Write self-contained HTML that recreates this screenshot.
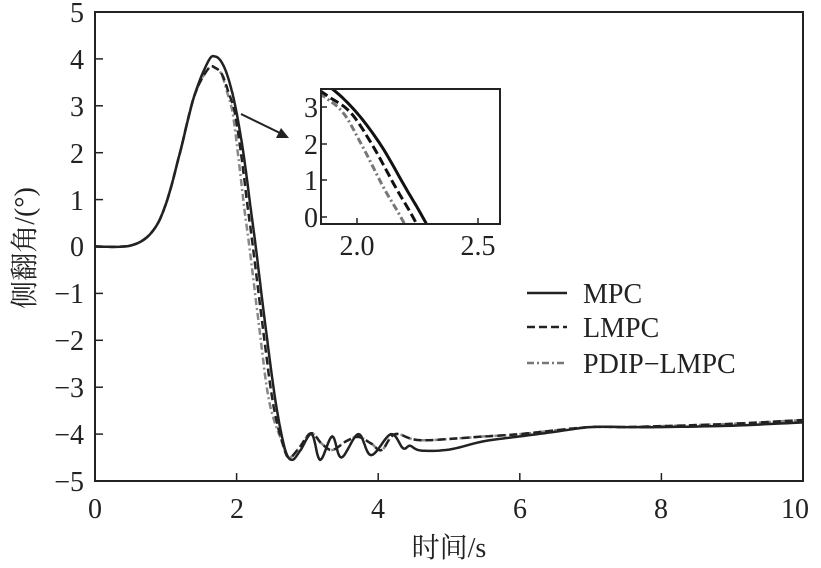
<!DOCTYPE html>
<html><head><meta charset="utf-8"><style>
body{margin:0;background:#fff}
svg text{font-family:"Liberation Serif","Noto Serif CJK SC",serif;fill:#222}
</style></head><body>
<svg id="s" width="821" height="563" viewBox="0 0 821 563" xmlns="http://www.w3.org/2000/svg">
<rect width="821" height="563" fill="#fff"/>
<g id="main"></g>
<rect x="95" y="12" width="708" height="469" fill="none" stroke="#222" stroke-width="2"/>
<g font-size="28" text-anchor="end">
<text x="84" y="22">5</text><text x="84" y="69">4</text><text x="84" y="116">3</text><text x="84" y="163">2</text><text x="84" y="210">1</text><text x="84" y="256">0</text><text x="84" y="303">−1</text><text x="84" y="350">−2</text><text x="84" y="397">−3</text><text x="84" y="444">−4</text><text x="84" y="491">−5</text>
</g>
<g font-size="28" text-anchor="middle">
<text x="95" y="518">0</text><text x="237" y="518">2</text><text x="378" y="518">4</text><text x="520" y="518">6</text><text x="661" y="518">8</text><text x="795" y="518">10</text>
</g>
<text x="449" y="557" font-size="28" text-anchor="middle">时间/s</text>
<text transform="translate(34,248) rotate(-90)" font-size="28" text-anchor="middle">侧翻角/(°)</text>
<g id="ticks" stroke="#222" stroke-width="1.5"></g>
<rect x="321" y="89" width="179" height="135" fill="#fff"/>
<g id="inset"></g>
<rect x="321" y="89" width="179" height="135" fill="none" stroke="#222" stroke-width="2"/>
<g font-size="28" text-anchor="end">
<text x="318" y="117">3</text><text x="318" y="154">2</text><text x="318" y="190">1</text><text x="318" y="227">0</text>
</g>
<g font-size="28" text-anchor="middle"><text x="357" y="255">2.0</text><text x="478" y="255">2.5</text></g>
<line x1="241" y1="114" x2="282" y2="134" stroke="#222" stroke-width="2"/>
<polygon points="289,138 276,138 281,128" fill="#222"/>
<g stroke-width="2.5" fill="none">
<line x1="527" y1="293" x2="567" y2="293" stroke="#222"/>
<line x1="527" y1="327" x2="567" y2="327" stroke="#222" stroke-dasharray="8,4"/>
<line x1="527" y1="363" x2="567" y2="363" stroke="#777" stroke-dasharray="7,3,2,3"/>
</g>
<g font-size="28"><text x="583" y="303">MPC</text><text x="583" y="337">LMPC</text><text x="583" y="373">PDIP−LMPC</text></g>
</svg>
<script>
var NS="http://www.w3.org/2000/svg";
var rise=[[0,0],[0.5,0.02],[0.8,0.3],[1.0,0.9],[1.2,2.0],[1.4,3.2],[1.6,3.95],[1.7,4.05]];
var fall=[[1.8,3.9],[1.9,3.5],[2.0,2.85],[2.1,1.95],[2.2,0.8],[2.27,0],[2.4,-1.6],[2.55,-3.3]];
var mpc=rise.concat(fall).concat([[2.68,-4.3],[2.78,-4.55],[2.9,-4.35],[3.06,-4.0],[3.18,-4.55],[3.35,-4.05],[3.48,-4.5],[3.72,-4.0],[3.9,-4.45],[4.18,-4.0],[4.35,-4.3],[4.45,-4.25],[4.6,-4.35],[5.0,-4.33],[5.5,-4.15],[6,-4.05],[6.5,-3.95],[7,-3.85],[7.5,-3.85],[8,-3.85],[9,-3.82],[10,-3.75]]);
function mod(d,pk){return rise.concat(fall).map(function(p){var t=p[0],v=p[1];if(t>1.4&&t<=1.9)v=v*(1-(1-pk)*Math.min(1,(t-1.4)/0.3));if(t>1.75){t-=d*Math.min(1,(t-1.75)/0.4);}return [t,v];});}
var tail=[[2.65,-4.2],[2.74,-4.5],[2.88,-4.3],[3.05,-3.98],[3.2,-4.2],[3.35,-4.34],[3.55,-4.15],[3.72,-4.06],[3.9,-4.2],[4.05,-4.34],[4.24,-4.0],[4.6,-4.13],[5.5,-4.05],[6,-4.0],[6.5,-3.92],[7,-3.85],[7.5,-3.85],[8,-3.83],[9,-3.78],[10,-3.7]];
var pd=mod(0.09,0.94).concat(tail);
var lm=mod(0.04,0.94).concat(tail);
function cr(pts,X,Y){var s=[];for(var i=0;i<pts.length-1;i++){var p0=pts[Math.max(0,i-1)],p1=pts[i],p2=pts[i+1],p3=pts[Math.min(pts.length-1,i+2)];for(var k=0;k<10;k++){var u=k/10,u2=u*u,u3=u2*u;var f=function(a,b,c,d){return 0.5*(2*b+(-a+c)*u+(2*a-5*b+4*c-d)*u2+(-a+3*b-3*c+d)*u3)};s.push(X(f(p0[0],p1[0],p2[0],p3[0])).toFixed(1)+","+Y(f(p0[1],p1[1],p2[1],p3[1])).toFixed(1));}}var l=pts[pts.length-1];s.push(X(l[0])+","+Y(l[1]));return "M"+s.join("L");}
function add(g,d,c,dash,w){var p=document.createElementNS(NS,"path");p.setAttribute("d",d);p.setAttribute("fill","none");p.setAttribute("stroke",c);p.setAttribute("stroke-width",w);if(dash)p.setAttribute("stroke-dasharray",dash);document.getElementById(g).appendChild(p);}
var MX=function(t){return 95+t*70.8},MY=function(v){return 246.5-v*46.9};
add("main",cr(pd,MX,MY),"#888","7,3,2,3",2.5);
add("main",cr(lm,MX,MY),"#222","8,4",2.5);
add("main",cr(mpc,MX,MY),"#222",null,2.5);
var IX=function(t){return 357+(t-2)*243},IY=function(v){return 217-v*36.5};
var clip=document.createElementNS(NS,"clipPath");clip.id="c";var r=document.createElementNS(NS,"rect");r.setAttribute("x",321);r.setAttribute("y",89);r.setAttribute("width",179);r.setAttribute("height",135);clip.appendChild(r);document.getElementById("s").appendChild(clip);
document.getElementById("inset").setAttribute("clip-path","url(#c)");
add("inset",cr(pd,IX,IY),"#777","7,3,2,3",3);
add("inset",cr(lm,IX,IY),"#111","9,4",3);
add("inset",cr(mpc,IX,IY),"#111",null,3);
var tk=document.getElementById("ticks"),h="";
for(var i=0;i<=10;i++){var y=12+i*46.9;h+='<line x1="95" y1="'+y+'" x2="103" y2="'+y+'"/>';}
for(var i=0;i<=5;i++){var x=95+i*141.6;h+='<line x1="'+x+'" y1="481" x2="'+x+'" y2="473"/>';}
tk.innerHTML=h;
var it="";[107,144,180,217].forEach(function(y){it+='<line x1="321" y1="'+y+'" x2="327" y2="'+y+'" stroke="#222" stroke-width="1.5"/>';});
[357,478].forEach(function(x){it+='<line x1="'+x+'" y1="224" x2="'+x+'" y2="218" stroke="#222" stroke-width="1.5"/>';});
document.getElementById("inset").insertAdjacentHTML("afterend",'<g>'+it+'</g>');
</script>
</body></html>
